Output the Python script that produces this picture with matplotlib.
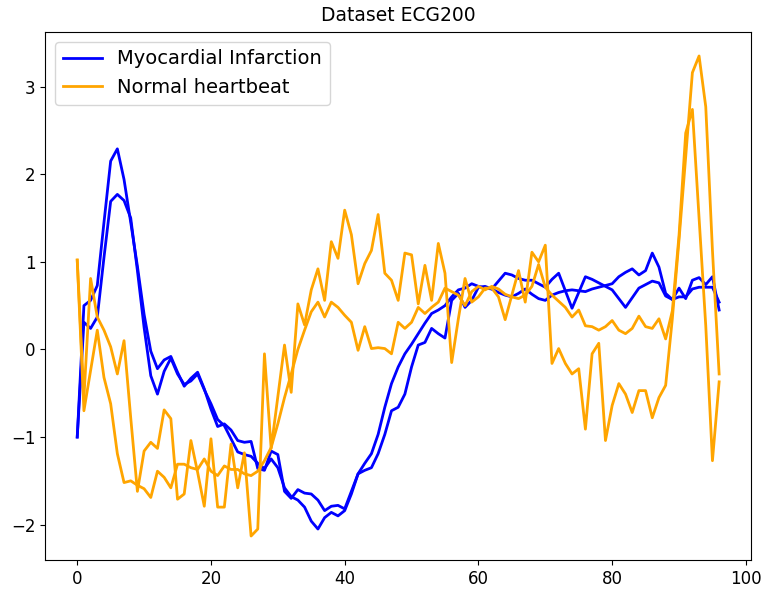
import numpy as np
import matplotlib
matplotlib.use('Agg')
import matplotlib.pyplot as plt

# ECG200 samples, 97 time steps each
mi_1 = [-1.00, 0.50, 0.56, 0.73, 1.45, 2.15, 2.29, 1.94, 1.45, 0.95,
        0.40, -0.02, -0.22, -0.12, -0.08, -0.26, -0.42, -0.33, -0.26, -0.45,
        -0.68, -0.88, -0.85, -0.92, -1.04, -1.06, -1.05, -1.36, -1.38, -1.16,
        -1.20, -1.62, -1.70, -1.60, -1.64, -1.65, -1.72, -1.84, -1.79, -1.78,
        -1.82, -1.62, -1.42, -1.38, -1.35, -1.19, -0.97, -0.70, -0.66, -0.51,
        -0.20, 0.05, 0.08, 0.24, 0.18, 0.13, 0.56, 0.64, 0.48, 0.56,
        0.71, 0.72, 0.69, 0.78, 0.87, 0.85, 0.81, 0.79, 0.79, 0.75,
        0.71, 0.80, 0.87, 0.67, 0.47, 0.65, 0.83, 0.80, 0.76, 0.72,
        0.68, 0.58, 0.48, 0.59, 0.70, 0.74, 0.78, 0.76, 0.61, 0.57,
        0.60, 0.60, 0.69, 0.71, 0.71, 0.71, 0.54]
mi_2 = [-1.00, 0.31, 0.24, 0.37, 1.05, 1.69, 1.77, 1.70, 1.50, 0.90,
        0.25, -0.30, -0.51, -0.25, -0.10, -0.28, -0.40, -0.36, -0.28, -0.46,
        -0.62, -0.80, -0.87, -1.02, -1.17, -1.20, -1.22, -1.30, -1.36, -1.25,
        -1.35, -1.58, -1.68, -1.72, -1.80, -1.96, -2.05, -1.92, -1.86, -1.90,
        -1.84, -1.65, -1.42, -1.30, -1.19, -0.97, -0.66, -0.39, -0.20, -0.05,
        0.06, 0.18, 0.30, 0.41, 0.45, 0.50, 0.60, 0.68, 0.70, 0.75,
        0.72, 0.70, 0.69, 0.65, 0.62, 0.60, 0.64, 0.69, 0.63, 0.58,
        0.56, 0.62, 0.65, 0.67, 0.68, 0.67, 0.66, 0.69, 0.71, 0.73,
        0.75, 0.83, 0.88, 0.92, 0.85, 0.90, 1.10, 0.94, 0.64, 0.57,
        0.70, 0.58, 0.79, 0.82, 0.74, 0.83, 0.45]
normal_1 = [1.02, -0.55, 0.81, 0.37, 0.22, 0.03, -0.28, 0.10, -0.78, -1.62,
            -1.16, -1.06, -1.13, -0.69, -0.79, -1.71, -1.65, -1.04, -1.40, -1.79,
            -1.02, -1.80, -1.80, -1.08, -1.58, -1.18, -2.13, -2.05, -0.05, -1.13,
            -0.54, 0.05, -0.49, 0.52, 0.28, 0.68, 0.92, 0.56, 1.23, 1.04,
            1.59, 1.31, 0.75, 0.98, 1.13, 1.54, 0.87, 0.79, 0.56, 1.10,
            1.08, 0.52, 0.96, 0.56, 1.21, 0.87, -0.15, 0.35, 0.81, 0.54,
            0.60, 0.70, 0.70, 0.60, 0.34, 0.62, 0.90, 0.54, 1.11, 1.00,
            1.19, -0.16, 0.01, -0.16, -0.28, -0.22, -0.91, -0.05, 0.07, -1.04,
            -0.64, -0.39, -0.51, -0.72, -0.47, -0.47, -0.78, -0.55, -0.41, 0.35,
            1.25, 2.20, 3.16, 3.35, 2.77, 1.13, -0.28]
normal_2 = [1.02, -0.70, -0.24, 0.22, -0.32, -0.62, -1.19, -1.52, -1.50, -1.55,
            -1.59, -1.69, -1.39, -1.46, -1.58, -1.31, -1.31, -1.35, -1.37, -1.25,
            -1.39, -1.44, -1.33, -1.37, -1.37, -1.42, -1.44, -1.39, -1.27, -1.12,
            -0.85, -0.55, -0.28, 0.00, 0.22, 0.43, 0.54, 0.37, 0.54, 0.48,
            0.39, 0.31, -0.01, 0.26, 0.01, 0.02, 0.01, -0.05, 0.31, 0.24,
            0.31, 0.48, 0.41, 0.48, 0.54, 0.70, 0.66, 0.62, 0.50, 0.66,
            0.72, 0.68, 0.72, 0.69, 0.63, 0.60, 0.58, 0.62, 0.72, 0.97,
            0.71, 0.62, 0.55, 0.48, 0.37, 0.45, 0.27, 0.26, 0.22, 0.26,
            0.33, 0.22, 0.18, 0.24, 0.38, 0.26, 0.24, 0.35, 0.12, 0.44,
            1.30, 2.47, 2.74, 1.50, 0.27, -1.27, -0.37]

plt.rcParams['font.size'] = 12

fig = plt.figure(figsize=(7.65, 5.92), dpi=100)
ax = fig.add_axes([0.059, 0.054, 0.923, 0.892])

t = np.arange(len(mi_1))
ax.plot(t, mi_1, color='blue', lw=2, label='Myocardial Infarction')
ax.plot(t, mi_2, color='blue', lw=2)
ax.plot(t, normal_1, color='orange', lw=2, label='Normal heartbeat')
ax.plot(t, normal_2, color='orange', lw=2)

ax.set_xticks([0, 20, 40, 60, 80, 100])
ax.set_title('Dataset ECG200', fontsize=13.5, pad=8)
ax.legend(loc='upper left', fontsize=14)

fig.savefig('out.png', dpi=100)
